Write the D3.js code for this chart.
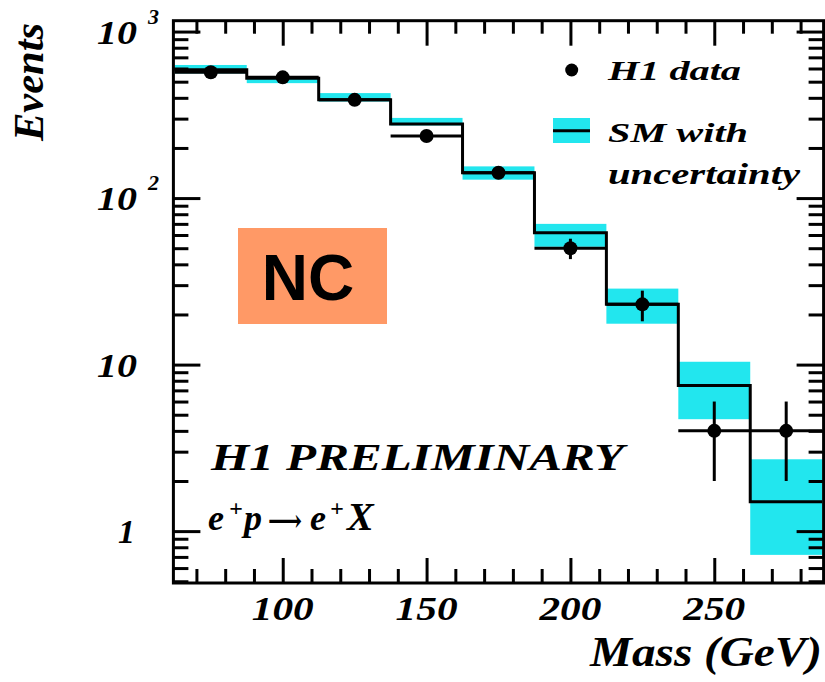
<!DOCTYPE html>
<html>
<head>
<meta charset="utf-8">
<script src="https://cdn.jsdelivr.net/npm/d3@7"></script>
<style>
  html, body { margin: 0; padding: 0; background: #fff; }
  svg { display: block; }
  .serif { font-family: "Liberation Serif", "DejaVu Serif", serif; font-weight: bold; font-style: italic; fill: #000; }
</style>
</head>
<body>
<svg id="chart" width="825" height="682"></svg>
<script>
// Invariant mass bins (GeV) — bin centres, 25 GeV wide
const binCenters = [75, 100, 125, 150, 175, 200, 225, 250, 275];
const binWidth = 25;

// Standard Model expectation and its uncertainty band
const smValues = [589, 525, 389, 279, 142, 62, 23, 7.5, 1.5];
const smLow    = [561, 490, 380, 273, 129, 51, 17.6, 4.7, 0.72];
const smHigh   = [630, 528, 427, 303, 155, 70, 28.6, 10.4, 2.7];

// H1 data: event counts and statistical errors
const dataValues = [570, 531, 389, 236, 142, 50, 23, 4, 4];
const dataErrors = [24, 23, 20, 15, 12, 7, 4.8, 2, 2];

// Axis ticks
const xTickLabels = [100, 150, 200, 250];
const xMinorTicks = [70, 80, 90, 110, 120, 130, 140, 160, 170, 180, 190, 210, 220, 230, 240, 260, 270, 280];
const yMajorTicks = [1, 10, 100, 1000];
const yMinorTicks = [0.5, 0.6, 0.7, 0.8, 0.9, 2, 3, 4, 5, 6, 7, 8, 9,
                     20, 30, 40, 50, 60, 70, 80, 90, 200, 300, 400, 500, 600, 700, 800, 900];

const svg = d3.select("#chart");
const L = 173.4, R = 823.6, T = 20.7, B = 583;

const x = d3.scaleLinear().domain([62, 288]).range([L, R]);
const y = d3.scaleLog().domain([0.488, 1162]).range([B, T]);

const cyan = "#22e6ee";
const lw = 3;

const bins = binCenters.map((c, i) => ({
  lo: c - binWidth / 2, hi: c + binWidth / 2, c,
  sm: smValues[i], smLo: smLow[i], smHi: smHigh[i],
  d: dataValues[i], e: dataErrors[i]
}));

const plot = svg.append("g");

// Uncertainty band
plot.selectAll("rect.band").data(bins).join("rect")
  .attr("class", "band")
  .attr("x", d => x(d.lo))
  .attr("width", d => x(d.hi) - x(d.lo))
  .attr("y", d => y(d.smHi))
  .attr("height", d => y(d.smLo) - y(d.smHi))
  .attr("fill", cyan);

// SM histogram as a step line
const stepPts = [];
bins.forEach(b => { stepPts.push([b.lo, b.sm]); stepPts.push([b.hi, b.sm]); });
plot.append("path")
  .attr("d", d3.line().x(p => x(p[0])).y(p => y(p[1]))(stepPts))
  .attr("fill", "none").attr("stroke", "#000").attr("stroke-width", lw);

// Data: horizontal bin bars, vertical error bars, markers
plot.selectAll("line.hbar").data(bins).join("line")
  .attr("x1", d => x(d.lo)).attr("x2", d => x(d.hi))
  .attr("y1", d => y(d.d)).attr("y2", d => y(d.d))
  .attr("stroke", "#000").attr("stroke-width", lw);
plot.selectAll("line.vbar").data(bins).join("line")
  .attr("x1", d => x(d.c)).attr("x2", d => x(d.c))
  .attr("y1", d => y(d.d + d.e)).attr("y2", d => y(d.d - d.e))
  .attr("stroke", "#000").attr("stroke-width", lw);
plot.selectAll("circle.pt").data(bins).join("circle")
  .attr("cx", d => x(d.c)).attr("cy", d => y(d.d)).attr("r", 7)
  .attr("fill", "#000");

// Frame and inward ticks
function styleAxis(g) {
  g.select(".domain").remove();
  g.selectAll(".tick line").attr("stroke", "#000").attr("stroke-width", lw);
  g.selectAll(".tick text").remove();
}
svg.append("g").attr("transform", `translate(0,${B})`)
  .call(d3.axisTop(x).tickValues(xMinorTicks).tickSize(14)).call(styleAxis);
svg.append("g").attr("transform", `translate(0,${B})`)
  .call(d3.axisTop(x).tickValues(xTickLabels).tickSize(25)).call(styleAxis);
svg.append("g").attr("transform", `translate(0,${T})`)
  .call(d3.axisBottom(x).tickValues(xMinorTicks).tickSize(13)).call(styleAxis);
svg.append("g").attr("transform", `translate(0,${T})`)
  .call(d3.axisBottom(x).tickValues(xTickLabels).tickSize(25)).call(styleAxis);
svg.append("g").attr("transform", `translate(${L},0)`)
  .call(d3.axisRight(y).tickValues(yMinorTicks).tickSize(15)).call(styleAxis);
svg.append("g").attr("transform", `translate(${L},0)`)
  .call(d3.axisRight(y).tickValues(yMajorTicks).tickSize(27)).call(styleAxis);
svg.append("g").attr("transform", `translate(${R},0)`)
  .call(d3.axisLeft(y).tickValues(yMinorTicks).tickSize(15)).call(styleAxis);
svg.append("g").attr("transform", `translate(${R},0)`)
  .call(d3.axisLeft(y).tickValues(yMajorTicks).tickSize(27)).call(styleAxis);

svg.append("rect")
  .attr("x", L).attr("y", T).attr("width", R - L).attr("height", B - T)
  .attr("fill", "none").attr("stroke", "#000").attr("stroke-width", lw);

// X tick labels
svg.selectAll("text.xl").data(xTickLabels).join("text")
  .attr("class", "serif")
  .attr("x", d => x(d)).attr("y", 620)
  .attr("text-anchor", "middle")
  .attr("font-size", 34)
  .attr("textLength", 62).attr("lengthAdjust", "spacingAndGlyphs")
  .text(d => d);

// Y tick labels
yMajorTicks.forEach(v => {
  const exp = Math.round(Math.log10(v));
  const t = svg.append("text").attr("class", "serif")
    .attr("y", y(v) + 12).attr("font-size", 34);
  if (exp === 0) {
    t.attr("x", 118).text("1");
  } else {
    t.attr("x", 97).append("tspan").text("10")
      .attr("textLength", 40).attr("lengthAdjust", "spacingAndGlyphs");
    if (exp > 1) {
      t.append("tspan").attr("x", 148).attr("dy", -20).attr("font-size", 22).text(exp);
    }
  }
});

// Axis titles
svg.append("text").attr("class", "serif")
  .attr("transform", "translate(43,82) rotate(-90)")
  .attr("text-anchor", "middle").attr("font-size", 42)
  .attr("textLength", 118).attr("lengthAdjust", "spacingAndGlyphs")
  .text("Events");
svg.append("text").attr("class", "serif")
  .attr("x", 822).attr("y", 666).attr("text-anchor", "end")
  .attr("font-size", 42)
  .attr("textLength", 232).attr("lengthAdjust", "spacingAndGlyphs")
  .text("Mass (GeV)");

// Legend
svg.append("circle").attr("cx", 571.7).attr("cy", 70).attr("r", 6.5).attr("fill", "#000");
svg.append("text").attr("class", "serif").attr("x", 608).attr("y", 80)
  .attr("font-size", 27).attr("textLength", 133).attr("lengthAdjust", "spacingAndGlyphs")
  .text("H1 data");
svg.append("rect").attr("x", 553).attr("y", 118).attr("width", 37).attr("height", 25).attr("fill", cyan);
svg.append("line").attr("x1", 553).attr("x2", 590).attr("y1", 130.7).attr("y2", 130.7)
  .attr("stroke", "#000").attr("stroke-width", lw);
svg.append("text").attr("class", "serif").attr("x", 608).attr("y", 142)
  .attr("font-size", 28).attr("textLength", 140).attr("lengthAdjust", "spacingAndGlyphs")
  .text("SM with");
svg.append("text").attr("class", "serif").attr("x", 608).attr("y", 184)
  .attr("font-size", 30).attr("textLength", 192).attr("lengthAdjust", "spacingAndGlyphs")
  .text("uncertainty");

// Experiment / process labels
svg.append("text").attr("class", "serif").attr("x", 211).attr("y", 470)
  .attr("font-size", 38).attr("textLength", 413).attr("lengthAdjust", "spacingAndGlyphs")
  .text("H1 PRELIMINARY");

// e+ p -> e+ X, each piece placed on its own
const procParts = [
  { t: "e", x: 208, y: 530, fs: 36 },
  { t: "+", x: 229, y: 516, fs: 24 },
  { t: "p", x: 244, y: 530, fs: 36 },
  { t: "\u27F6", x: 268, y: 531, fs: 30, plain: true },
  { t: "e", x: 310, y: 530, fs: 36 },
  { t: "+", x: 330, y: 516, fs: 24 },
  { t: "X", x: 347, y: 530, fs: 40 }
];
procParts.forEach(p => {
  const el = svg.append("text").attr("class", "serif")
    .attr("x", p.x).attr("y", p.y).attr("font-size", p.fs).text(p.t);
  if (p.plain) el.attr("font-family", "'DejaVu Sans', sans-serif").attr("font-style", "normal").attr("font-weight", "normal")
    .attr("textLength", 34).attr("lengthAdjust", "spacingAndGlyphs");
});

// Channel tag
svg.append("rect").attr("x", 238).attr("y", 228).attr("width", 149).attr("height", 96).attr("fill", "#ff9966");
svg.append("text").attr("x", 308).attr("y", 300).attr("text-anchor", "middle")
  .attr("font-family", "'Liberation Sans', Arial, sans-serif").attr("font-weight", "bold")
  .attr("font-size", 64).attr("fill", "#000").text("NC");
</script>
</body>
</html>
